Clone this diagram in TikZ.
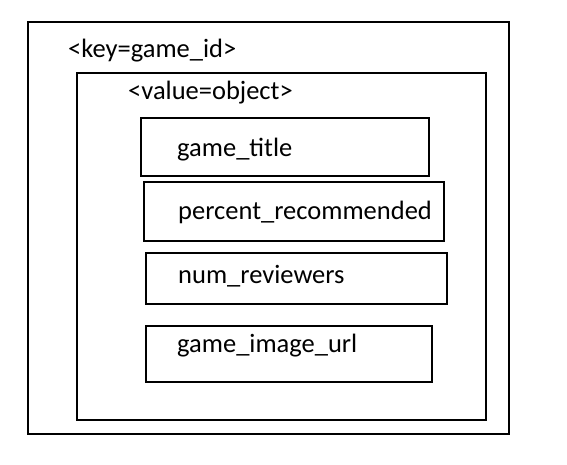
\documentclass[tikz,border=0pt]{standalone}
\usepackage{fontspec}
\setmainfont{Carlito}
\usetikzlibrary{positioning}
\tikzset{
  box/.style={draw, line width=2pt},
  lbl/.style={anchor=base west, inner sep=0pt, font=\fontsize{26.5}{31}\selectfont}
}

\begin{document}
\begin{tikzpicture}[x=1pt, y=-1pt]
\useasboundingbox (0,0) rectangle (567,464);

% key level
\draw[box] (28,22) rectangle (509,434);
\node[lbl] (key) at (68,57) {<key=game\_id>};

% value level
\draw[box] (77,73) rectangle (486,420);
\node[lbl] (value) at (128,99) {<value=object>};

% fields
\draw[box] (141,118) rectangle (429,176);
\node[lbl] (title) at (177,156) {game\_title};

\draw[box] (144,182) rectangle (444,241);
\node[lbl] (percent) at (178,219) {percent\_recommended};

\draw[box] (146,253) rectangle (447,304);
\node[lbl] (reviewers) at (178,283) {num\_reviewers};

\draw[box] (146,326) rectangle (432,382);
\node[lbl] (image) at (177,352) {game\_image\_url};

\end{tikzpicture}
\end{document}
